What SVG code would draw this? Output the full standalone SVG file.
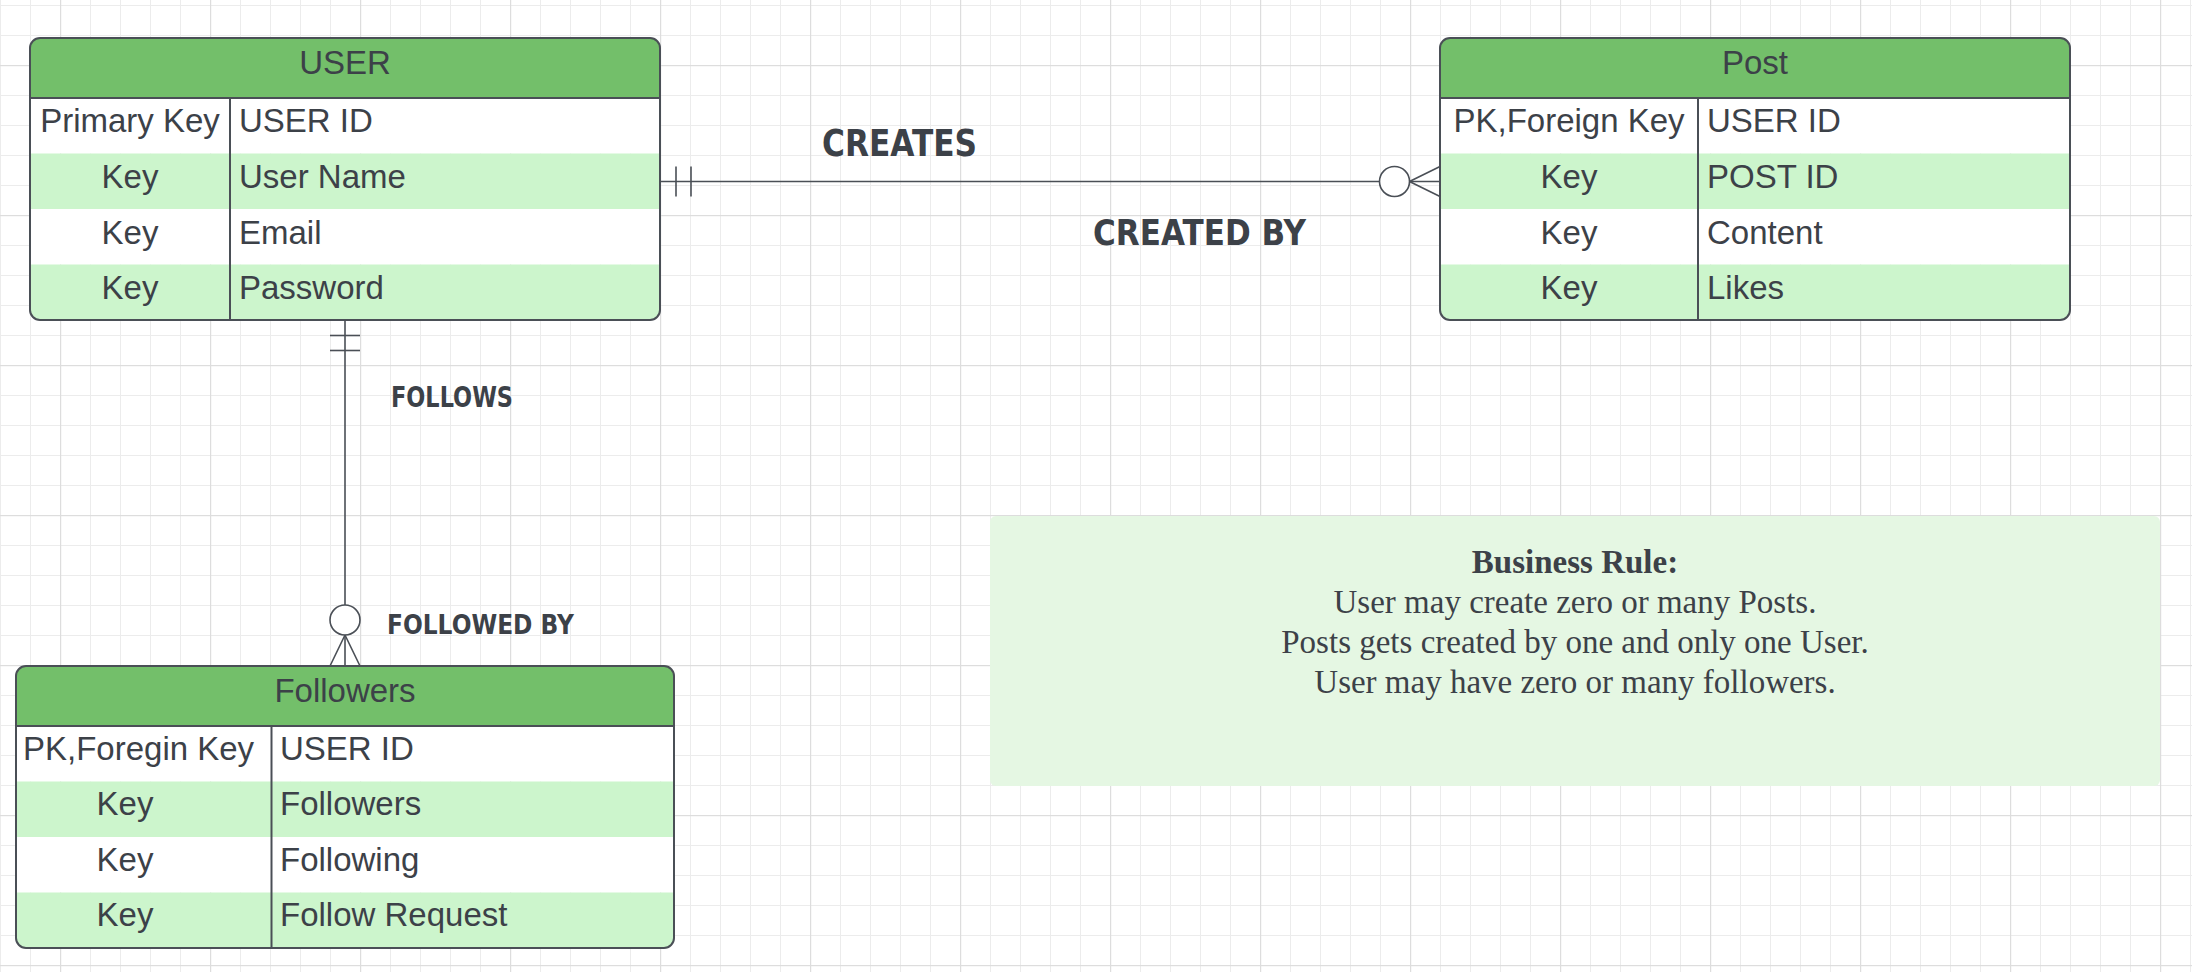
<svg xmlns="http://www.w3.org/2000/svg" width="2192" height="972" viewBox="0 0 2192 972">
  <defs>
    <pattern id="grid" x="60" y="65" width="150" height="150" patternUnits="userSpaceOnUse">
      <rect x="0" y="0" width="150" height="150" fill="#ffffff"/>
      <g fill="#ececec">
        <rect x="30" y="0" width="1" height="150"/>
        <rect x="60" y="0" width="1" height="150"/>
        <rect x="90" y="0" width="1" height="150"/>
        <rect x="120" y="0" width="1" height="150"/>
        <rect x="0" y="30" width="150" height="1"/>
        <rect x="0" y="60" width="150" height="1"/>
        <rect x="0" y="90" width="150" height="1"/>
        <rect x="0" y="120" width="150" height="1"/>
      </g>
      <g fill="#dddddd">
        <rect x="0" y="0" width="1.2" height="150"/>
        <rect x="0" y="0" width="150" height="1.2"/>
      </g>
    </pattern>
    <clipPath id="clipUser"><rect x="30" y="38" width="630" height="282" rx="10"/></clipPath>
    <clipPath id="clipPost"><rect x="1440" y="38" width="630" height="282" rx="10"/></clipPath>
    <clipPath id="clipFol"><rect x="16" y="666" width="658" height="282" rx="10"/></clipPath>
  </defs>
  <style>
    .hdr { fill: #73bf6a; }
    .rw { fill: #ffffff; }
    .ra { fill: #ccf5cc; }
    .frame { fill: none; stroke: #4a4f56; stroke-width: 2; }
    .sep { stroke: #4a4f56; stroke-width: 2; }
    .t { font-family: "Liberation Sans", Arial, sans-serif; font-size: 33px; fill: #3c4148; }
    .tc { text-anchor: middle; }
    .conn { fill: none; stroke: #4a4f56; stroke-width: 1.6; }
    .hand { font-family: "DejaVu Sans", sans-serif; font-weight: bold; fill: #3c4148; }
    .rule { font-family: "Liberation Serif", "Times New Roman", serif; font-size: 33px; fill: #3c4148; text-anchor: middle; }
  </style>

  <rect x="0" y="0" width="2192" height="972" fill="url(#grid)"/>

  <!-- USER table -->
  <g id="user">
    <g clip-path="url(#clipUser)">
      <rect class="hdr" x="30" y="38" width="630" height="60"/>
      <rect class="rw" x="30" y="98" width="630" height="55.5"/>
      <rect class="ra" x="30" y="153.5" width="630" height="55.5"/>
      <rect class="rw" x="30" y="209" width="630" height="55.5"/>
      <rect class="ra" x="30" y="264.5" width="630" height="55.5"/>
    </g>
    <line class="sep" x1="30" y1="98" x2="660" y2="98"/>
    <line class="sep" x1="230" y1="98" x2="230" y2="320"/>
    <rect class="frame" x="30" y="38" width="630" height="282" rx="10"/>
    <text class="t tc" x="345" y="74">USER</text>
    <text class="t tc" x="130" y="132">Primary Key</text>
    <text class="t" x="239" y="132">USER ID</text>
    <text class="t tc" x="130" y="188">Key</text>
    <text class="t" x="239" y="188">User Name</text>
    <text class="t tc" x="130" y="244">Key</text>
    <text class="t" x="239" y="244">Email</text>
    <text class="t tc" x="130" y="299">Key</text>
    <text class="t" x="239" y="299">Password</text>
  </g>

  <!-- Post table -->
  <g id="post">
    <g clip-path="url(#clipPost)">
      <rect class="hdr" x="1440" y="38" width="630" height="60"/>
      <rect class="rw" x="1440" y="98" width="630" height="55.5"/>
      <rect class="ra" x="1440" y="153.5" width="630" height="55.5"/>
      <rect class="rw" x="1440" y="209" width="630" height="55.5"/>
      <rect class="ra" x="1440" y="264.5" width="630" height="55.5"/>
    </g>
    <line class="sep" x1="1440" y1="98" x2="2070" y2="98"/>
    <line class="sep" x1="1698" y1="98" x2="1698" y2="320"/>
    <rect class="frame" x="1440" y="38" width="630" height="282" rx="10"/>
    <text class="t tc" x="1755" y="74">Post</text>
    <text class="t tc" x="1569" y="132">PK,Foreign Key</text>
    <text class="t" x="1707" y="132">USER ID</text>
    <text class="t tc" x="1569" y="188">Key</text>
    <text class="t" x="1707" y="188">POST ID</text>
    <text class="t tc" x="1569" y="244">Key</text>
    <text class="t" x="1707" y="244">Content</text>
    <text class="t tc" x="1569" y="299">Key</text>
    <text class="t" x="1707" y="299">Likes</text>
  </g>

  <!-- Followers table -->
  <g id="followers">
    <g clip-path="url(#clipFol)">
      <rect class="hdr" x="16" y="666" width="658" height="60"/>
      <rect class="rw" x="16" y="726" width="658" height="55.5"/>
      <rect class="ra" x="16" y="781.5" width="658" height="55.5"/>
      <rect class="rw" x="16" y="837" width="658" height="55.5"/>
      <rect class="ra" x="16" y="892.5" width="658" height="55.5"/>
    </g>
    <line class="sep" x1="16" y1="726" x2="674" y2="726"/>
    <line class="sep" x1="271.5" y1="726" x2="271.5" y2="948"/>
    <rect class="frame" x="16" y="666" width="658" height="282" rx="10"/>
    <text class="t tc" x="345" y="702">Followers</text>
    <text class="t" x="23" y="760">PK,Foregin Key</text>
    <text class="t" x="280" y="760">USER ID</text>
    <text class="t tc" x="125" y="815">Key</text>
    <text class="t" x="280" y="815">Followers</text>
    <text class="t tc" x="125" y="871">Key</text>
    <text class="t" x="280" y="871">Following</text>
    <text class="t tc" x="125" y="926">Key</text>
    <text class="t" x="280" y="926">Follow Request</text>
  </g>

  <!-- Business rule note -->
  <g id="business-rule">
    <rect x="990" y="516" width="1170" height="270" rx="6" fill="#e5f7e3"/>
    <text class="rule" x="1575" y="573" font-weight="bold">Business Rule:</text>
    <text class="rule" x="1575" y="613">User may create zero or many Posts.</text>
    <text class="rule" x="1575" y="653">Posts gets created by one and only one User.</text>
    <text class="rule" x="1575" y="693">User may have zero or many followers.</text>
  </g>

  <!-- Connectors -->
  <g id="connectors">
    <!-- USER to Post -->
    <line class="conn" x1="660" y1="181.5" x2="1440" y2="181.5"/>
    <line class="conn" x1="676" y1="166.5" x2="676" y2="196.5"/>
    <line class="conn" x1="691" y1="166.5" x2="691" y2="196.5"/>
    <circle cx="1394.5" cy="181.5" r="15" fill="#ffffff" stroke="#4a4f56" stroke-width="1.6"/>
    <path class="conn" d="M1409.5 181.5 L1440 166.5 M1409.5 181.5 L1440 196.5"/>
    <!-- USER to Followers -->
    <line class="conn" x1="345" y1="320" x2="345" y2="666"/>
    <line class="conn" x1="330" y1="335.5" x2="360" y2="335.5"/>
    <line class="conn" x1="330" y1="350.5" x2="360" y2="350.5"/>
    <circle cx="345" cy="620" r="15" fill="#ffffff" stroke="#4a4f56" stroke-width="1.6"/>
    <path class="conn" d="M345 635 L330 666 M345 635 L360 666"/>
  </g>

  <!-- Connector labels -->
  <g id="labels">
    <text class="hand" x="822" y="156" font-size="38" textLength="155" lengthAdjust="spacingAndGlyphs">CREATES</text>
    <text class="hand" x="1093" y="245" font-size="36" textLength="213" lengthAdjust="spacingAndGlyphs">CREATED BY</text>
    <text class="hand" x="391" y="406.5" font-size="28" textLength="122" lengthAdjust="spacingAndGlyphs">FOLLOWS</text>
    <text class="hand" x="387" y="634" font-size="27" textLength="187" lengthAdjust="spacingAndGlyphs">FOLLOWED BY</text>
  </g>
</svg>
